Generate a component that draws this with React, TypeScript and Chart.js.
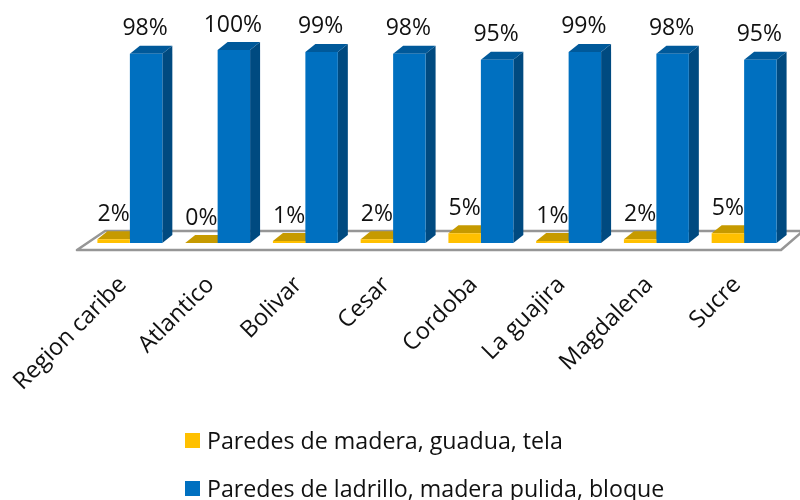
import { useEffect, useRef } from "react";
import { Chart, registerables } from "chart.js";

Chart.register(...registerables);

const categories = ["Region caribe", "Atlantico", "Bolivar", "Cesar", "Cordoba", "La guajira", "Magdalena", "Sucre"];
const maderaValues = [2, 0, 1, 2, 5, 1, 2, 5];
const ladrilloValues = [98, 100, 99, 98, 95, 99, 98, 95];
const seriesNames = ["Paredes de madera, guadua, tela", "Paredes de ladrillo, madera pulida, bloque"];
const frontColors = ["#FFC000", "#0070C0"];
const topColors = ["#C69A00", "#00599A"];
const sideColors = ["#A88200", "#004A80"];
const FONT = '"Open Sans", "Noto Sans", sans-serif';
const DX = 10;
const DY = 8;

const bar3d = {
  id: "bar3d",
  beforeDatasetsDraw(chart: any) {
    const { ctx, chartArea } = chart;
    const base = chartArea.bottom;
    ctx.save();
    ctx.strokeStyle = "#969696";
    ctx.lineWidth = 2.5;
    ctx.lineJoin = "round";
    ctx.fillStyle = "#ffffff";
    ctx.beginPath();
    ctx.moveTo(chartArea.left - 9, base + 7);
    ctx.lineTo(chartArea.right - 7, base + 7);
    ctx.lineTo(chartArea.right + 15, base - 12);
    ctx.lineTo(chartArea.left + 19, base - 12);
    ctx.closePath();
    ctx.fill();
    ctx.stroke();
    chart.data.datasets.forEach((_: any, di: number) => {
      chart.getDatasetMeta(di).data.forEach((bar: any) => {
        const l = bar.x - bar.width / 2;
        const r = bar.x + bar.width / 2;
        ctx.fillStyle = sideColors[di];
        ctx.beginPath();
        ctx.moveTo(r, bar.y);
        ctx.lineTo(r + DX, bar.y - DY);
        ctx.lineTo(r + DX, base - DY);
        ctx.lineTo(r, base);
        ctx.closePath();
        ctx.fill();
        ctx.fillStyle = topColors[di];
        ctx.beginPath();
        ctx.moveTo(l, bar.y);
        ctx.lineTo(l + DX, bar.y - DY);
        ctx.lineTo(r + DX, bar.y - DY);
        ctx.lineTo(r, bar.y);
        ctx.closePath();
        ctx.fill();
      });
    });
    ctx.restore();
  },
  afterDatasetsDraw(chart: any) {
    const { ctx } = chart;
    ctx.save();
    ctx.fillStyle = "#111111";
    ctx.font = `23px ${FONT}`;
    ctx.textAlign = "center";
    ctx.textBaseline = "middle";
    chart.data.datasets.forEach((ds: any, di: number) => {
      chart.getDatasetMeta(di).data.forEach((bar: any, i: number) => {
        ctx.fillText(`${ds.data[i]}%`, bar.x + (di === 0 ? 0 : -1), bar.y - 25);
      });
    });
    ctx.restore();
  },
};

export default function App() {
  const ref = useRef<HTMLCanvasElement>(null);
  useEffect(() => {
    document.body.style.margin = "0";
    const chart = new Chart(ref.current!, {
      type: "bar",
      data: {
        labels: categories,
        datasets: [
          { label: seriesNames[0], data: maderaValues, backgroundColor: frontColors[0] },
          { label: seriesNames[1], data: ladrilloValues, backgroundColor: frontColors[1] },
        ],
      },
      options: {
        animation: false,
        responsive: false,
        layout: { padding: { left: 86, right: 12, top: 50, bottom: 0 } },
        plugins: { legend: { display: false }, tooltip: { enabled: false } },
        datasets: { bar: { categoryPercentage: 0.74, barPercentage: 1 } },
        scales: {
          y: { display: false, min: 0, max: 100 },
          x: {
            grid: { display: false },
            border: { display: false },
            afterFit(s: any) {
              s.height = 257;
              s.paddingLeft = 0;
              s.paddingRight = 0;
            },
            ticks: {
              autoSkip: false,
              minRotation: 45,
              maxRotation: 45,
              padding: 20,
              labelOffset: -7,
              color: "#111111",
              font: { family: FONT, size: 23.5 },
            },
          },
        },
      },
      plugins: [bar3d],
    } as any);
    return () => chart.destroy();
  }, []);

  const legendRow = (i: number, top: number) => (
    <div
      style={{
        position: "absolute",
        left: 185,
        top,
        display: "flex",
        alignItems: "center",
        height: 30,
        fontFamily: FONT,
        fontSize: 23.2,
        color: "#111111",
        whiteSpace: "nowrap",
      }}
    >
      <span style={{ width: 15, height: 15, background: frontColors[i], marginRight: 7 }} />
      {seriesNames[i]}
    </div>
  );

  return (
    <div style={{ position: "relative", width: 800, height: 500, overflow: "hidden" }}>
      <canvas ref={ref} width={800} height={500} style={{ display: "block" }} />
      {legendRow(0, 425)}
      {legendRow(1, 473)}
    </div>
  );
}
